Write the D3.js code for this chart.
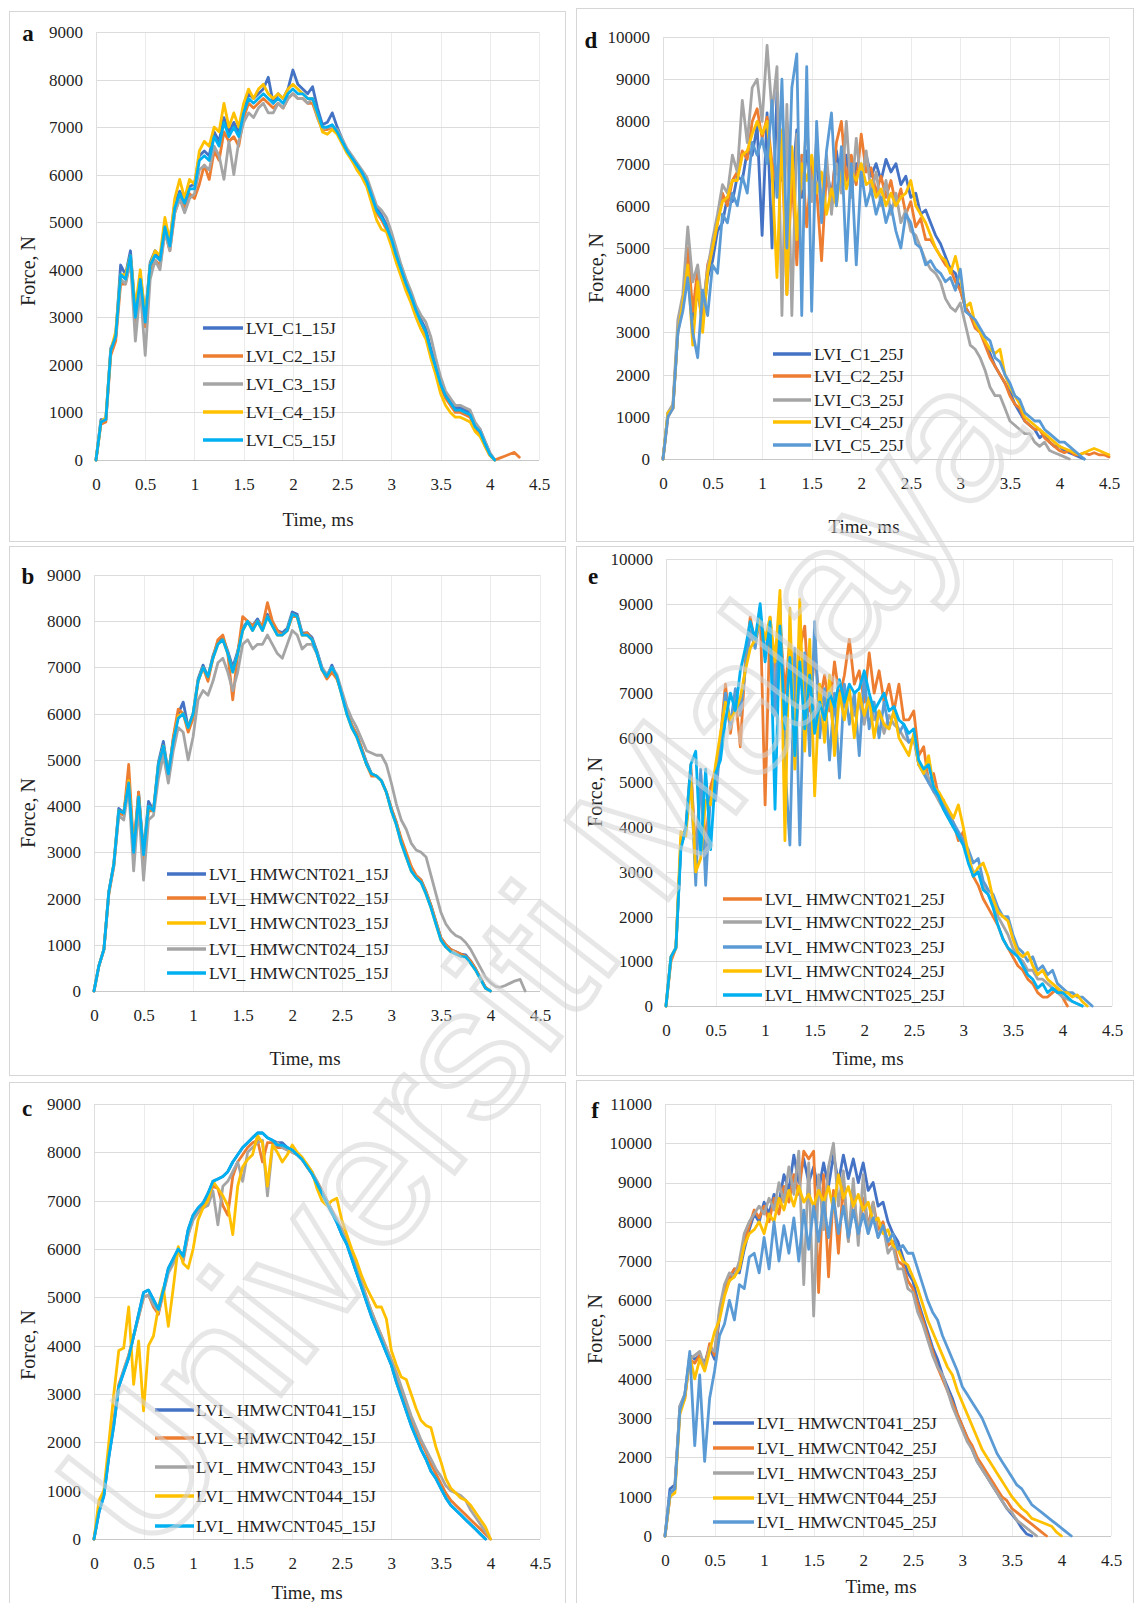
<!DOCTYPE html>
<html>
<head>
<meta charset="utf-8">
<script src="https://cdn.jsdelivr.net/npm/d3@7/dist/d3.min.js"></script>
<style>
  html, body { margin: 0; padding: 0; background: #fff; }
  svg { display: block; }
</style>
</head>
<body>
<svg id="figure" width="1136" height="1603"></svg>
<script>
// Force histories are sampled every SAMPLE_MS milliseconds, starting at t = 0.
const SAMPLE_MS = 0.05;

const timeTicks = [0, 0.5, 1, 1.5, 2, 2.5, 3, 3.5, 4, 4.5];
const timeTickLabels = ["0", "0.5", "1", "1.5", "2", "2.5", "3", "3.5", "4", "4.5"];
const forceTicks9k = [0, 1000, 2000, 3000, 4000, 5000, 6000, 7000, 8000, 9000];
const forceTicks10k = [0, 1000, 2000, 3000, 4000, 5000, 6000, 7000, 8000, 9000, 10000];
const forceTicks11k = [0, 1000, 2000, 3000, 4000, 5000, 6000, 7000, 8000, 9000, 10000, 11000];

// ---- legend names ----
const namesC15J = ["LVI_C1_15J", "LVI_C2_15J", "LVI_C3_15J", "LVI_C4_15J", "LVI_C5_15J"];
const namesH02_15J = ["LVI_ HMWCNT021_15J", "LVI_ HMWCNT022_15J", "LVI_ HMWCNT023_15J", "LVI_ HMWCNT024_15J", "LVI_ HMWCNT025_15J"];
const namesH04_15J = ["LVI_ HMWCNT041_15J", "LVI_ HMWCNT042_15J", "LVI_ HMWCNT043_15J", "LVI_ HMWCNT044_15J", "LVI_ HMWCNT045_15J"];
const namesC25J = ["LVI_C1_25J", "LVI_C2_25J", "LVI_C3_25J", "LVI_C4_25J", "LVI_C5_25J"];
const namesH02_25J = ["LVI_ HMWCNT021_25J", "LVI_ HMWCNT022_25J", "LVI_ HMWCNT023_25J", "LVI_ HMWCNT024_25J", "LVI_ HMWCNT025_25J"];
const namesH04_25J = ["LVI_ HMWCNT041_25J", "LVI_ HMWCNT042_25J", "LVI_ HMWCNT043_25J", "LVI_ HMWCNT044_25J", "LVI_ HMWCNT045_25J"];

// ---- force (N) : control laminates, 15 J ----
const C1_15J = [0,850,850,2350,2600,4100,3900,4400,3100,3900,3000,4150,4400,4200,5000,4600,5400,5650,5450,5750,5800,6400,6500,6400,6900,6700,7200,6900,7100,6900,7400,7700,7600,7700,7800,8050,7500,7700,7600,7800,8200,7900,7800,7700,7850,7400,7050,7100,7300,7000,6750,6500,6350,6200,6050,5900,5600,5300,5150,4950,4700,4350,4050,3750,3500,3200,2950,2750,2350,2000,1650,1400,1250,1100,1100,1050,1000,750,650,400,150,0];
const C2_15J = [0,750,800,2200,2500,3700,3700,4200,2900,3700,2800,4000,4200,4100,4800,4400,5200,5500,5300,5600,5500,5800,6200,5900,6500,6300,6900,6700,6800,6600,7200,7500,7400,7500,7600,7500,7400,7500,7400,7600,7700,7600,7600,7500,7500,7200,6950,6950,7000,6900,6700,6500,6300,6150,6000,5800,5500,5200,5050,4850,4600,4250,3950,3650,3400,3150,2900,2650,2250,1900,1550,1300,1150,1000,1000,950,900,650,550,300,100,0,40,80,120,160,60];
const C3_15J = [0,800,850,2300,2600,3800,3700,4200,2500,3600,2200,3800,4200,4000,4800,4400,5200,5500,5200,5500,5600,6100,6200,6100,6600,6400,5900,6700,6000,6700,7100,7300,7200,7400,7500,7300,7300,7500,7400,7600,7700,7600,7600,7500,7600,7200,6950,7000,7000,6950,6750,6550,6400,6250,6100,5950,5650,5350,5250,5100,4800,4450,4100,3800,3550,3250,3050,2900,2600,2150,1750,1450,1300,1150,1150,1100,1050,800,650,400,150,0];
const C4_15J = [0,800,900,2300,2700,3900,3900,4300,3200,4000,3000,4100,4400,4300,5100,4600,5500,5900,5500,5900,5800,6500,6700,6600,7000,6900,7500,7000,7300,7000,7500,7800,7600,7800,7900,7700,7600,7700,7600,7800,7900,7800,7700,7600,7600,7250,6900,6850,6950,6850,6650,6450,6300,6100,5950,5750,5400,5050,4850,4800,4500,4150,3850,3550,3300,3000,2750,2550,2150,1800,1400,1150,1000,900,900,850,800,600,500,300,100,0];
const C5_15J = [0,800,850,2300,2600,3900,3800,4300,3000,3800,2900,4100,4300,4200,4900,4500,5300,5600,5400,5700,5700,6300,6400,6300,6800,6600,7100,6800,7000,6800,7300,7600,7500,7600,7700,7600,7500,7600,7500,7700,7800,7700,7700,7600,7600,7300,7000,7000,7050,6900,6700,6500,6350,6200,6050,5850,5550,5250,5100,4900,4650,4300,4000,3700,3450,3150,2900,2700,2300,1950,1600,1350,1200,1050,1050,1000,950,700,600,350,120,0];

// ---- force (N) : HMWCNT 0.2 wt%, 15 J ----
const H021_15J = [0,550,900,2150,2750,3950,3850,4600,3000,4300,3000,4100,3900,4950,5400,4700,5450,6000,6250,5700,6000,6750,7050,6800,7250,7550,7650,7350,7000,7350,7850,8000,7900,8050,7850,8150,7950,7800,7750,7850,8200,8150,7750,7750,7650,7350,7000,6800,7050,6800,6450,6050,5750,5550,5250,4950,4700,4650,4550,4300,3950,3650,3250,2950,2650,2500,2400,2150,1850,1500,1150,1000,900,850,800,780,650,480,280,80,0];
const H022_15J = [0,550,900,2100,2700,3850,3800,4900,3100,4300,2800,3900,3900,4800,5300,4600,5500,6100,6000,5600,5900,6700,7000,6700,7200,7600,7700,7300,6300,7300,8100,8000,7900,8000,7900,8400,8000,7800,7700,7800,8100,8100,7700,7750,7600,7300,6950,6750,6900,6750,6450,6050,5750,5550,5250,4900,4650,4650,4550,4300,3950,3650,3300,3000,2700,2500,2400,2150,1850,1500,1150,1000,900,850,800,750,650,480,280,80,0];
const H023_15J = [0,550,900,2150,2750,3900,3850,4550,3000,4200,2950,4000,3900,4900,5300,4700,5400,5950,6000,5700,6000,6700,7000,6800,7200,7500,7600,7300,6900,7300,7800,8000,7800,8000,7800,8100,7900,7700,7700,7800,8150,8100,7700,7700,7600,7300,6950,6800,7000,6800,6400,6000,5700,5500,5200,4900,4700,4650,4550,4300,3900,3600,3200,2900,2600,2450,2350,2100,1800,1450,1100,950,850,800,750,740,600,450,250,60,0];
const H024_15J = [0,550,900,2150,2700,3800,3700,4400,2600,4000,2400,3700,3800,4600,5100,4500,5200,5700,5600,5000,5500,6300,6500,6400,6700,7100,7200,6900,6500,6900,7500,7600,7400,7500,7500,7700,7500,7300,7200,7500,7800,7700,7400,7500,7500,7300,7000,6850,7000,6850,6500,6150,5900,5700,5450,5200,5150,5100,5100,4900,4500,4050,3700,3500,3200,3050,3000,2900,2500,2100,1700,1450,1300,1200,1150,1050,900,700,500,300,180,100,80,120,170,220,250,0];
const H025_15J = [0,550,900,2150,2750,3900,3850,4500,3000,4200,2950,4000,3900,4900,5300,4700,5400,5900,6000,5700,6000,6700,7000,6800,7200,7500,7600,7300,6900,7300,7800,8000,7800,8000,7800,8100,7900,7700,7700,7800,8150,8100,7700,7700,7600,7300,6950,6800,7000,6800,6400,6000,5700,5500,5200,4900,4700,4650,4550,4300,3900,3600,3200,2900,2600,2450,2350,2100,1800,1450,1100,950,850,800,750,740,600,450,250,60,0];

// ---- force (N) : HMWCNT 0.4 wt%, 15 J ----
const H041_15J = [0,550,900,1700,2350,3150,3450,3750,4200,4650,5100,5150,4950,4750,5150,5600,5800,6000,5850,6400,6700,6850,6950,7150,7400,7450,7500,7600,7800,7950,8100,8200,8300,8400,8400,8300,8250,8200,8200,8100,8050,7950,7850,7700,7550,7350,7150,6950,6750,6550,6300,6100,5800,5500,5200,4900,4600,4350,4100,3850,3600,3250,2950,2650,2350,2100,1850,1650,1400,1250,1050,850,700,600,500,400,300,200,100,0];
const H042_15J = [0,600,950,1800,2450,3200,3500,3800,4200,4600,5000,5050,4800,4650,5100,5550,5750,5950,5750,6300,6650,6800,6900,7050,7300,7250,6900,6700,7500,7800,7950,8100,8200,8250,7800,8200,8200,8100,8100,8050,8000,7950,7850,7700,7550,7400,7200,7000,6800,6600,6400,6150,5900,5600,5300,5000,4700,4450,4200,3950,3700,3400,3100,2800,2500,2250,2000,1800,1550,1350,1150,950,800,700,600,500,400,300,200,100,0];
const H043_15J = [0,600,950,1750,2400,3150,3500,3800,4200,4600,5000,5050,4850,4700,5100,5500,5700,5950,5800,6300,6600,6750,6850,6900,7200,6500,7300,7400,7600,7800,7400,8000,8100,8200,8250,7100,8100,8200,8100,8050,8000,7950,7850,7750,7600,7400,7200,7000,6800,6600,6400,6150,5900,5600,5300,5000,4700,4450,4200,3950,3700,3450,3150,2850,2550,2300,2050,1850,1650,1450,1300,1100,1000,950,900,800,600,450,300,150,0];
const H044_15J = [0,800,1000,2000,3000,3900,3950,4800,3200,4100,2650,4000,4200,4800,5200,4400,5200,6050,5700,5600,6000,6600,6850,7000,7400,7250,7100,6900,6300,7300,7700,7850,7950,8350,8200,7300,8150,8000,7800,7950,8150,8000,7900,7750,7600,7250,7000,6900,7000,7050,6600,6300,6000,5750,5450,5200,5000,4800,4800,4550,3900,3600,3350,3300,3000,2700,2450,2350,2300,1900,1600,1250,1050,950,850,800,700,550,400,250,0];
const H045_15J = [0,550,900,1700,2350,3150,3450,3750,4200,4650,5100,5150,4950,4750,5150,5600,5800,6000,5850,6400,6700,6850,6950,7150,7400,7450,7500,7600,7800,7950,8100,8200,8300,8400,8400,8300,8250,8150,8150,8100,8050,7950,7850,7700,7550,7350,7150,6950,6750,6550,6300,6100,5800,5500,5200,4900,4600,4350,4100,3850,3600,3250,2950,2650,2350,2100,1850,1650,1400,1250,1050,850,700,600,500,400,300,200,100,0];

// ---- force (N) : control laminates, 25 J ----
const C1_25J = [0,1100,1200,3000,3800,4300,3300,4000,3200,4300,4700,5400,5600,6200,6100,6700,6600,7300,7200,7900,5300,8200,5000,8700,6600,8000,6400,7800,6200,7300,6500,7000,6000,6900,6200,7300,6400,7200,6300,7000,6600,7200,6700,7000,6600,7100,6800,7000,6500,6700,6200,6300,5800,5900,5600,5300,5100,4800,4500,4400,4000,3600,3400,3200,3000,2800,2500,2200,2000,1800,1600,1300,1100,900,800,700,500,600,400,300,300,200,150,100,50,0];
const C2_25J = [0,1000,1200,3100,3700,5000,3500,4500,3400,4600,5000,5600,6300,6000,6600,6800,7300,7100,8000,8300,7600,8100,7000,6500,7400,3900,6800,4600,7200,5500,7000,6400,4700,6800,6000,7500,8000,6600,7200,6500,7700,6800,6900,6300,6700,6200,6600,6000,6400,5800,6100,5500,5700,5200,5200,5000,4800,4600,4500,4200,4000,3600,3400,3100,3000,2700,2400,2200,2000,1800,1500,1300,1200,900,800,700,700,500,400,300,200,150,200,100,100,150,100,150,100,100,50];
const C3_25J = [0,1100,1300,3300,3900,5500,4200,4600,3600,4500,5200,5800,6500,6300,7200,6800,8500,7500,8800,9000,8000,9800,8200,9300,3400,8400,3400,7700,6400,8000,6100,7600,6000,7200,5800,7000,6300,8000,6200,7600,6500,7300,6300,6800,6000,6600,5800,6300,5600,5900,5400,5300,5000,4700,4500,4400,4200,3800,3600,3500,3700,3200,2700,2600,2400,2100,1700,1500,1500,1200,900,800,700,600,600,400,300,400,200,150,100,50,0];
const C4_25J = [0,1100,1200,3000,3700,4600,2700,4200,3000,4400,5000,5600,6100,6200,6600,6600,7200,7300,7700,8000,7700,8000,6800,4300,7800,3900,7400,5200,7000,6600,7200,6300,6800,5800,6400,6000,7000,6400,6800,6600,7000,6500,6600,6200,6400,6000,6300,6000,6200,6300,6600,6000,5800,5600,5300,5000,4800,4700,4400,4800,4300,3600,3700,3200,3000,2800,2600,2500,2600,2000,1700,1500,1300,1000,900,800,700,600,500,400,300,250,200,150,100,150,200,250,200,150,100];
const C5_25J = [0,1000,1200,3000,3500,4300,3000,2400,4000,3400,4600,4400,5800,5600,6300,6000,6700,6300,7500,7200,7600,7000,8500,6200,9000,5000,8800,9600,3400,9300,3500,8000,5600,7300,8200,6000,7400,4700,7000,4600,6800,6000,6400,5800,6200,5600,6000,5400,5000,5800,5600,5100,5000,4600,4700,4500,4400,4200,4300,4000,4500,3500,3400,3300,3100,2900,2800,2400,2300,2000,1800,1500,1400,1100,1000,900,900,700,600,500,400,400,300,200,100,0];

// ---- force (N) : HMWCNT 0.2 wt%, 25 J ----
const H021_25J = [0,1000,1300,3700,4000,5400,3300,5200,3600,4900,5300,6000,7200,6100,6900,5800,7700,8700,8100,8900,4500,8700,7400,8600,7000,8200,6900,8000,8500,6600,7900,6800,7400,6600,7700,6900,7400,8200,7200,7500,6800,7900,7000,7500,6800,7200,6600,7200,6400,6400,6600,5600,5800,5000,5200,4700,4600,4300,4100,3700,3900,3300,2900,2700,2400,2200,2000,1800,1500,1300,1100,900,800,600,500,300,200,200,300,400,200,0];
const H022_25J = [0,1100,1300,3600,3900,5300,3200,5000,3400,4700,5000,5900,7000,6200,7000,6500,7600,8300,8100,8800,7900,8500,7000,8800,6000,8000,5500,7600,6600,7800,6300,7000,6500,6900,6000,7000,6700,7000,6500,6800,6300,6900,6400,6600,6100,6500,6300,6200,6000,5900,6000,5400,5300,5100,4800,4600,4400,4200,4000,3800,3600,3300,3000,3000,2700,2500,2300,2000,1800,1600,1300,1100,1000,800,800,600,600,500,400,300,200,150,100,50,0];
const H023_25J = [0,1100,1300,3600,3900,5200,2700,5300,2700,4800,4600,5900,7000,6300,7100,6600,7500,8400,8000,8800,7800,8600,6500,9100,5400,3600,8000,3600,7900,5600,8600,6000,7100,5500,7000,5100,7200,6300,7000,5600,7400,6200,6800,6000,6800,6200,6600,6100,6300,5900,6000,5400,5200,5000,4800,4700,4500,4300,4100,3900,3700,3500,3200,3300,2800,2600,2500,2200,2000,2000,1600,1300,1200,1000,1100,800,900,700,800,500,400,300,300,200,200,100,0];
const H024_25J = [0,1100,1300,3900,3800,5100,3000,3300,4600,4500,5400,6100,6800,6400,6600,6900,7500,8000,8200,8700,8200,8700,7700,9300,3700,8900,5300,9100,5700,8200,4700,7200,5900,7400,5600,7000,6400,7100,6000,7000,6500,6900,6000,6600,6300,6200,6600,6000,5800,5600,6100,5400,5200,5600,4900,4800,4600,4400,4200,4500,4000,3400,2900,3100,3200,2900,2400,2100,2000,1900,1500,1200,1100,1200,900,700,800,600,500,400,300,300,200,250,100,0];
const H025_25J = [0,1100,1300,3500,4000,5400,5700,3400,5300,3500,5200,5500,6400,7000,6600,7500,8000,8600,8200,9000,7700,8600,4400,8500,6200,7800,5600,7700,6200,7400,6100,6800,6400,7000,6700,7300,6800,7200,7000,7100,7500,7000,6600,6800,7000,6600,6700,6400,6300,6100,6200,5500,5300,5400,4900,4700,4400,4200,4000,3800,3600,3200,2900,3000,2600,2500,2200,1800,1500,1300,1200,1100,900,700,600,400,500,300,400,300,300,200,100,50,0];

// ---- force (N) : HMWCNT 0.4 wt%, 25 J ----
const H041_25J = [0,1200,1300,3300,3600,4600,4500,4600,4400,4800,4500,5600,6300,6500,6800,6700,7300,7800,8200,8000,8500,8200,8700,8500,9200,8800,9700,9000,9600,9000,9400,8800,9500,8900,9700,9000,9700,9100,9600,9000,9500,8800,9000,8400,8500,8000,7700,7500,7100,6700,6500,6000,5600,5200,4800,4500,4100,3800,3500,3100,2800,2500,2200,1900,1700,1500,1300,1100,900,700,550,400,200,50,0];
const H042_25J = [0,1000,1200,3200,3500,4500,4400,4600,4300,4900,4600,5700,6200,6600,6800,6800,7500,7900,8300,8100,8400,8000,8600,8200,8900,8500,9200,8700,9800,9600,9800,6200,9200,6600,8800,7200,9000,7500,8800,7600,8600,7900,8500,7800,8000,7400,7500,7000,6900,6500,6300,5900,5500,5100,4700,4300,4000,3700,3400,3100,2800,2500,2300,2000,1800,1600,1400,1200,1000,900,700,600,500,400,300,200,100,0];
const H043_25J = [0,1000,1200,3300,3600,4500,4600,4700,4300,4800,4700,5800,6400,6700,6600,7000,7700,8000,8200,8400,8200,8600,8300,9000,8500,9400,8700,9800,6400,9500,5600,9200,7800,9400,10000,8400,9300,7500,9100,7400,9200,7700,8500,7600,7900,7200,7400,6800,6800,6300,6200,5700,5400,5000,4600,4300,4100,3700,3300,3000,2700,2400,2200,1900,1700,1500,1300,1100,900,700,600,400,300,200,100,0];
const H044_25J = [0,1000,1100,3100,3500,4600,4000,4500,4200,4700,5200,5500,6100,6500,6600,6800,7400,7700,7800,8000,7700,8200,8000,8600,8300,8800,8400,8900,8500,8700,8400,8800,8500,8900,8300,9200,8600,8900,8400,8700,8300,8500,8000,8100,7700,7800,7400,7300,7000,6900,6600,6300,5900,5500,5200,4900,4600,4300,4100,3700,3400,3100,2800,2500,2200,2000,1800,1600,1400,1200,1000,850,700,600,450,400,350,300,250,100,0];
const H045_25J = [0,1100,1200,3200,3600,4700,2300,4100,1900,3500,4200,5100,5400,6000,5500,6400,6300,7100,7200,6700,7600,6800,8000,7000,7900,7200,8100,7000,8300,7300,8400,7500,8500,7600,8600,7700,8400,7600,8300,7700,8200,7700,8100,7600,7900,7500,7700,7300,7400,7200,7200,6800,6400,6000,5700,5500,5100,4800,4500,4200,3800,3600,3400,3200,3000,2700,2400,2100,1900,1700,1500,1300,1200,1000,800,700,600,500,400,300,200,100,0];

// ---- line colours ----
const BLUE = "#4472C4", ORANGE = "#ED7D31", GRAY = "#A5A5A5", GOLD = "#FFC000", SKY = "#5B9BD5", CYAN = "#00B0F0";

const SERIF = "'Liberation Serif', 'Times New Roman', Times, serif";
const INK = "#1f1f1f";

// Figure layout: one entry per sub-plot
const panels = [
  { letter: "a", letterPos: [28, 33], box: [9, 11, 556, 530],
    xRange: [96, 539], yRange: [460, 32], yMax: 9000, yTicks: forceTicks9k,
    names: namesC15J, series: [C1_15J, C2_15J, C3_15J, C4_15J, C5_15J],
    colors: [BLUE, ORANGE, GRAY, GOLD, CYAN],
    legend: { x1: 203, x2: 243, tx: 246, rows: [328, 356, 384, 412, 440] },
    xTitle: [318, 519], yTitle: [28, 271] },
  { letter: "b", letterPos: [28, 576], box: [9, 546, 556, 529],
    xRange: [94, 540], yRange: [991, 575], yMax: 9000, yTicks: forceTicks9k,
    names: namesH02_15J, series: [H021_15J, H022_15J, H023_15J, H024_15J, H025_15J],
    colors: [BLUE, ORANGE, GOLD, GRAY, CYAN],
    legend: { x1: 167, x2: 206, tx: 209, rows: [874, 898, 923, 949, 973] },
    xTitle: [305, 1058], yTitle: [28, 813] },
  { letter: "c", letterPos: [27, 1108], box: [9, 1082, 556, 530],
    xRange: [94, 540], yRange: [1539, 1104], yMax: 9000, yTicks: forceTicks9k,
    names: namesH04_15J, series: [H041_15J, H042_15J, H043_15J, H044_15J, H045_15J],
    colors: [BLUE, ORANGE, GRAY, GOLD, CYAN],
    legend: { x1: 155, x2: 194, tx: 196, rows: [1410, 1438, 1467, 1496, 1526] },
    xTitle: [307, 1592], yTitle: [28, 1345] },
  { letter: "d", letterPos: [591, 40], box: [576, 8, 557, 533],
    xRange: [663, 1109], yRange: [459, 37], yMax: 10000, yTicks: forceTicks10k,
    names: namesC25J, series: [C1_25J, C2_25J, C3_25J, C4_25J, C5_25J],
    colors: [BLUE, ORANGE, GRAY, GOLD, SKY],
    legend: { x1: 773, x2: 811, tx: 814, rows: [354, 376, 400, 422, 445] },
    xTitle: [864, 526], yTitle: [596, 268] },
  { letter: "e", letterPos: [593, 576], box: [576, 546, 557, 529],
    xRange: [666, 1112], yRange: [1006, 559], yMax: 10000, yTicks: forceTicks10k,
    names: namesH02_25J, series: [H021_25J, H022_25J, H023_25J, H024_25J, H025_25J],
    colors: [ORANGE, GRAY, SKY, GOLD, CYAN],
    legend: { x1: 723, x2: 762, tx: 765, rows: [899, 922, 947, 971, 995] },
    xTitle: [868, 1058], yTitle: [595, 792] },
  { letter: "f", letterPos: [595, 1110], box: [576, 1080, 557, 532],
    xRange: [665, 1111], yRange: [1536, 1104], yMax: 11000, yTicks: forceTicks11k,
    names: namesH04_25J, series: [H041_25J, H042_25J, H043_25J, H044_25J, H045_25J],
    colors: [BLUE, ORANGE, GRAY, GOLD, SKY],
    legend: { x1: 713, x2: 754, tx: 757, rows: [1423, 1448, 1473, 1498, 1522] },
    xTitle: [881, 1586], yTitle: [595, 1329] }
];

const svg = d3.select("#figure");
svg.append("rect").attr("width", 1136).attr("height", 1603).attr("fill", "#fff");

panels.forEach(p => {
  const g = svg.append("g").attr("class", "panel-" + p.letter);

  // chart frame
  g.append("rect")
    .attr("x", p.box[0] + 0.5).attr("y", p.box[1] + 0.5)
    .attr("width", p.box[2]).attr("height", p.box[3])
    .attr("fill", "#fff").attr("stroke", "#d6d6d6").attr("stroke-width", 1);

  const x = d3.scaleLinear().domain([0, 4.5]).range(p.xRange);
  const y = d3.scaleLinear().domain([0, p.yMax]).range(p.yRange);

  // gridlines
  g.append("g").selectAll("line").data(timeTicks.slice(1)).join("line")
    .attr("x1", d => Math.round(x(d)) + 0.5).attr("x2", d => Math.round(x(d)) + 0.5)
    .attr("y1", y(0)).attr("y2", y(p.yMax))
    .attr("stroke", "#ebebeb").attr("stroke-width", 1);
  g.append("g").selectAll("line").data(p.yTicks.slice(1)).join("line")
    .attr("x1", x(0)).attr("x2", x(4.5))
    .attr("y1", d => Math.round(y(d)) + 0.5).attr("y2", d => Math.round(y(d)) + 0.5)
    .attr("stroke", "#dcdcdc").attr("stroke-width", 1);

  // axis lines
  g.append("line").attr("x1", x(0)).attr("x2", x(4.5))
    .attr("y1", Math.round(y(0)) + 0.5).attr("y2", Math.round(y(0)) + 0.5)
    .attr("stroke", "#c8c8c8");
  g.append("line").attr("x1", Math.round(x(0)) + 0.5).attr("x2", Math.round(x(0)) + 0.5)
    .attr("y1", y(0)).attr("y2", y(p.yMax))
    .attr("stroke", "#dedede");

  // tick labels
  const yAxis = d3.axisLeft(y).tickValues(p.yTicks).tickSize(0).tickPadding(13).tickFormat(d3.format("d"));
  const gy = g.append("g").attr("transform", `translate(${x(0)},0)`).call(yAxis);
  gy.select(".domain").remove();
  gy.attr("font-family", SERIF).attr("font-size", 17);
  gy.selectAll("text").attr("fill", INK);

  const xAxis = d3.axisBottom(x).tickValues(timeTicks).tickSize(0).tickPadding(18)
    .tickFormat((d, i) => timeTickLabels[i]);
  const gx = g.append("g").attr("transform", `translate(0,${y(0)})`).call(xAxis);
  gx.select(".domain").remove();
  gx.attr("font-family", SERIF).attr("font-size", 17);
  gx.selectAll("text").attr("fill", INK);

  // axis titles
  g.append("text").attr("x", p.xTitle[0]).attr("y", p.xTitle[1])
    .attr("text-anchor", "middle").attr("dominant-baseline", "central")
    .attr("font-family", SERIF).attr("font-size", 19).attr("fill", INK)
    .text("Time, ms");
  g.append("text")
    .attr("transform", `translate(${p.yTitle[0]},${p.yTitle[1]}) rotate(-90)`)
    .attr("text-anchor", "middle").attr("dominant-baseline", "central")
    .attr("font-family", SERIF).attr("font-size", 20).attr("fill", INK)
    .text("Force, N");

  // sub-figure letter
  g.append("text").attr("x", p.letterPos[0]).attr("y", p.letterPos[1])
    .attr("text-anchor", "middle").attr("dominant-baseline", "central")
    .attr("font-family", SERIF).attr("font-weight", "bold").attr("font-size", 23).attr("fill", "#111")
    .text(p.letter);

  // force-time curves
  const line = d3.line()
    .x((v, i) => x(i * SAMPLE_MS))
    .y(v => y(v));
  g.append("g").selectAll("path").data(p.series).join("path")
    .attr("d", d => line(d))
    .attr("fill", "none")
    .attr("stroke", (d, i) => p.colors[i])
    .attr("stroke-width", 2.8)
    .attr("stroke-linejoin", "round")
    .attr("stroke-linecap", "round");

  // legend
  const lg = g.append("g");
  p.names.forEach((name, i) => {
    const cy = p.legend.rows[i];
    lg.append("line").attr("x1", p.legend.x1).attr("x2", p.legend.x2)
      .attr("y1", cy).attr("y2", cy)
      .attr("stroke", p.colors[i]).attr("stroke-width", 3.5);
    lg.append("text").attr("x", p.legend.tx).attr("y", cy)
      .attr("dominant-baseline", "central")
      .attr("font-family", SERIF).attr("font-size", 17.5).attr("fill", INK)
      .text(name);
  });
});

// repository watermark across the figure
svg.append("text")
  .attr("transform", "translate(540,958) rotate(-52)")
  .attr("text-anchor", "middle").attr("dominant-baseline", "central")
  .attr("font-family", "'Liberation Sans', Arial, sans-serif")
  .attr("font-size", 188)
  .attr("fill", "none")
  .attr("stroke", "#d4d4d4").attr("stroke-width", 5)
  .attr("opacity", 0.55)
  .text("Universiti Malaya");
</script>
</body>
</html>
